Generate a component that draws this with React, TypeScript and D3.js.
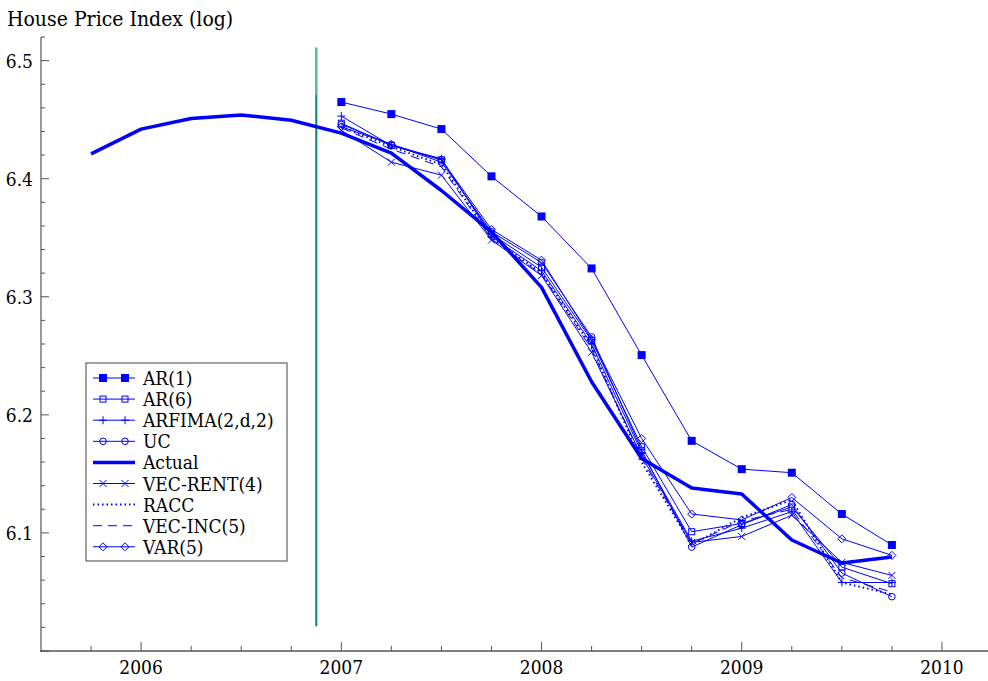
import * as d3 from "d3";
import { useRef, useEffect } from "react";

// quarters (decimal years)
const actualDates = [2005.75, 2006, 2006.25, 2006.5, 2006.75, 2007, 2007.25, 2007.5, 2007.75, 2008, 2008.25, 2008.5, 2008.75, 2009, 2009.25, 2009.5, 2009.75];
const actualValues = [6.421, 6.442, 6.451, 6.454, 6.4495, 6.4386, 6.4217, 6.39, 6.355, 6.308, 6.228, 6.163, 6.138, 6.133, 6.094, 6.0745, 6.0796];

const forecastDates = [2007, 2007.25, 2007.5, 2007.75, 2008, 2008.25, 2008.5, 2008.75, 2009, 2009.25, 2009.5, 2009.75];
const ar1 = [6.4649, 6.4547, 6.442, 6.402, 6.368, 6.324, 6.2506, 6.178, 6.154, 6.151, 6.116, 6.0898];
const ar6 = [6.447, 6.428, 6.416, 6.353, 6.325, 6.263, 6.173, 6.101, 6.108, 6.122, 6.071, 6.057];
const arfima = [6.453, 6.428, 6.417, 6.351, 6.322, 6.26, 6.168, 6.093, 6.104, 6.118, 6.058, 6.058];
const uc = [6.446, 6.429, 6.414, 6.355, 6.329, 6.266, 6.17, 6.088, 6.107, 6.124, 6.066, 6.046];
const vecRent = [6.441, 6.414, 6.403, 6.348, 6.318, 6.253, 6.165, 6.092, 6.097, 6.115, 6.075, 6.064];
const racc = [6.444, 6.427, 6.412, 6.35, 6.32, 6.258, 6.16, 6.09, 6.113, 6.128, 6.058, 6.048];
const vecInc = [6.443, 6.425, 6.41, 6.349, 6.319, 6.256, 6.163, 6.091, 6.11, 6.12, 6.062, 6.05];
const var5 = [6.444, 6.429, 6.416, 6.357, 6.331, 6.264, 6.18, 6.116, 6.111, 6.13, 6.095, 6.081];

const legendLabels = ["AR(1)", "AR(6)", "ARFIMA(2,d,2)", "UC", "Actual", "VEC-RENT(4)", "RACC", "VEC-INC(5)", "VAR(5)"];
const yearTicks = [2006, 2007, 2008, 2009, 2010];
const yTicks = [6.1, 6.2, 6.3, 6.4, 6.5];
const forecastOrigin = 2006.875;

const BLUE = "#0000ff";
const FONT = "'DejaVu Serif Condensed', 'DejaVu Serif', serif";

type Series = { name: string; values: number[]; marker: string; width: number; dash?: string };

const series: Series[] = [
  { name: "AR(1)", values: ar1, marker: "fsquare", width: 1 },
  { name: "AR(6)", values: ar6, marker: "square", width: 1 },
  { name: "ARFIMA(2,d,2)", values: arfima, marker: "plus", width: 1 },
  { name: "UC", values: uc, marker: "circle", width: 1 },
  { name: "VEC-RENT(4)", values: vecRent, marker: "cross", width: 1 },
  { name: "RACC", values: racc, marker: "none", width: 2, dash: "1.5,3" },
  { name: "VEC-INC(5)", values: vecInc, marker: "none", width: 1, dash: "9,6" },
  { name: "VAR(5)", values: var5, marker: "diamond", width: 1 },
];

function drawMarker(g: any, type: string, cx: number, cy: number) {
  if (type === "fsquare") {
    g.append("rect").attr("x", cx - 4).attr("y", cy - 4).attr("width", 8).attr("height", 8).attr("fill", BLUE);
  } else if (type === "square") {
    g.append("rect").attr("x", cx - 3).attr("y", cy - 3).attr("width", 6).attr("height", 6)
      .attr("fill", "none").attr("stroke", BLUE).attr("stroke-width", 1);
  } else if (type === "circle") {
    g.append("circle").attr("cx", cx).attr("cy", cy).attr("r", 3.3)
      .attr("fill", "none").attr("stroke", BLUE).attr("stroke-width", 1);
  } else if (type === "diamond") {
    g.append("path").attr("d", `M${cx},${cy - 4}L${cx + 4},${cy}L${cx},${cy + 4}L${cx - 4},${cy}Z`)
      .attr("fill", "none").attr("stroke", BLUE).attr("stroke-width", 1);
  } else if (type === "plus") {
    g.append("path").attr("d", `M${cx - 4},${cy}H${cx + 4}M${cx},${cy - 4}V${cy + 4}`)
      .attr("stroke", BLUE).attr("stroke-width", 1);
  } else if (type === "cross") {
    g.append("path").attr("d", `M${cx - 3.5},${cy - 3.5}L${cx + 3.5},${cy + 3.5}M${cx - 3.5},${cy + 3.5}L${cx + 3.5},${cy - 3.5}`)
      .attr("stroke", BLUE).attr("stroke-width", 1);
  }
}

const Chart = ({ width, height }: { width: number; height: number }) => {
  const ref = useRef<SVGSVGElement>(null);

  useEffect(() => {
    const svg = d3.select(ref.current);
    svg.selectAll("*").remove();

    const x = d3.scaleLinear().domain([2005.5, 2010.23]).range([41, 988]);
    const y = d3.scaleLinear().domain([6.0, 6.52]).range([651, 37]);

    const text = (sel: any, size = 19) => sel.style("font-family", FONT).style("font-stretch", "condensed")
      .attr("font-size", size).attr("fill", "#000");

    // title
    svg.append("text").attr("x", 7).attr("y", 26).call(text, 21).text("House Price Index (log)");

    // axes
    const axisColor = "#555";
    svg.append("line").attr("x1", 41).attr("x2", 41).attr("y1", y(6.52)).attr("y2", 652)
      .attr("stroke", axisColor).attr("stroke-width", 1.2);
    svg.append("line").attr("x1", 40).attr("x2", 988).attr("y1", 651).attr("y2", 651)
      .attr("stroke", axisColor).attr("stroke-width", 1.6);

    // y ticks every 0.02
    d3.range(0, 27).forEach(i => {
      const v = 6.0 + i * 0.02;
      const major = Math.abs(v * 10 - Math.round(v * 10)) < 1e-6;
      svg.append("line").attr("x1", 41).attr("x2", 41 + (major ? 8 : 4))
        .attr("y1", y(v)).attr("y2", y(v)).attr("stroke", axisColor).attr("stroke-width", 1);
    });
    yTicks.forEach(v => {
      svg.append("text").attr("x", 33).attr("y", y(v) + 7).attr("text-anchor", "end")
        .call(text).text(d3.format(".1f")(v));
    });

    // x ticks quarterly
    d3.range(0, 19).forEach(i => {
      const v = 2005.75 + i * 0.25;
      const major = Math.abs(v - Math.round(v)) < 1e-6;
      svg.append("line").attr("x1", x(v)).attr("x2", x(v)).attr("y1", 651).attr("y2", 651 - (major ? 9 : 5))
        .attr("stroke", axisColor).attr("stroke-width", 1);
    });
    yearTicks.forEach(v => {
      svg.append("text").attr("x", x(v)).attr("y", 674).attr("text-anchor", "middle")
        .call(text).text(v);
    });

    // forecast origin line
    svg.append("line").attr("x1", x(forecastOrigin)).attr("x2", x(forecastOrigin))
      .attr("y1", y(6.511)).attr("y2", y(6.021)).attr("stroke", "#008080").attr("stroke-width", 2);
    svg.append("line").attr("x1", x(forecastOrigin)).attr("x2", x(forecastOrigin))
      .attr("y1", y(6.511)).attr("y2", y(6.471)).attr("stroke", "#70b8b8").attr("stroke-width", 2);

    const line = d3.line<number>()
      .x((d, i) => x(forecastDates[i]))
      .y(d => y(d));

    series.forEach(s => {
      const g = svg.append("g");
      g.append("path").datum(s.values).attr("fill", "none").attr("stroke", BLUE)
        .attr("stroke-width", s.width).attr("stroke-dasharray", s.dash || null).attr("d", line);
      s.values.forEach((v, i) => drawMarker(g, s.marker, x(forecastDates[i]), y(v)));
    });

    const actualLine = d3.line<number>()
      .x((d, i) => x(actualDates[i]))
      .y(d => y(d));
    svg.append("path").datum(actualValues).attr("fill", "none").attr("stroke", BLUE)
      .attr("stroke-width", 3.5).attr("stroke-linejoin", "round").attr("d", actualLine);

    // legend
    const lg = svg.append("g");
    lg.append("rect").attr("x", 86).attr("y", 363).attr("width", 201).attr("height", 198)
      .attr("fill", "#fff").attr("stroke", "#444").attr("stroke-width", 1);
    legendLabels.forEach((name, i) => {
      const cy = 378 + i * 21.1;
      const s = series.find(d => d.name === name);
      if (s) {
        lg.append("line").attr("x1", 93).attr("x2", 135).attr("y1", cy).attr("y2", cy)
          .attr("stroke", BLUE).attr("stroke-width", s.width).attr("stroke-dasharray", s.dash || null);
        drawMarker(lg, s.marker, 103, cy);
        drawMarker(lg, s.marker, 125, cy);
      } else {
        lg.append("line").attr("x1", 93).attr("x2", 135).attr("y1", cy).attr("y2", cy)
          .attr("stroke", BLUE).attr("stroke-width", 3.5);
      }
      lg.append("text").attr("x", 143).attr("y", cy + 7).call(text, 19).text(name);
    });
  }, [width, height]);

  return <svg ref={ref} width={width} height={height}
    style={{ position: "absolute", left: 0, top: 0, background: "#fff" }} />;
};

export default function App() {
  return <Chart width={988} height={681} />;
}
